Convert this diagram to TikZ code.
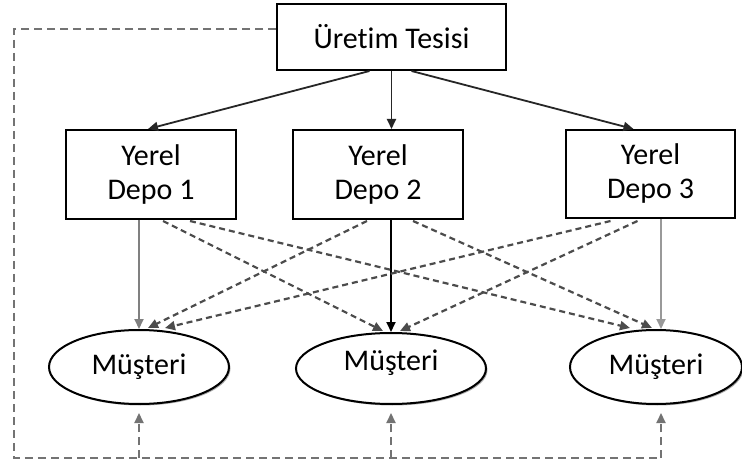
\documentclass[tikz,border=0pt]{standalone}
\usepackage{fontspec}
\setmainfont{Carlito}[Ligatures=NoCommon]
\usetikzlibrary{shapes.geometric,arrows.meta,shadows,calc}
\begin{document}
\begin{tikzpicture}[x=1pt,y=-1pt,
  txt/.style={font=\fontsize{30}{34}\selectfont},
  box/.style={txt,draw=black,line width=2pt,fill=white,inner sep=0pt,align=center},
  cust/.style={txt,ellipse,draw=black,line width=2pt,fill=white,inner sep=0pt,
    drop shadow={shadow xshift=1.5pt,shadow yshift=-1.5pt,fill=black!55,opacity=0.6}},
  tip/.style={-{Triangle[length=10pt,width=9pt]}},
  feed/.style={tip,draw=black!85,line width=1.8pt},
  direct/.style={tip,line width=1.9pt},
  cross/.style={tip,draw=black!70,line width=2.2pt,dash pattern=on 6pt off 4pt},
  back/.style={draw=black!55,line width=2pt,dash pattern=on 8pt off 5pt},
]
\useasboundingbox[fill=white] (0,0) rectangle (742,473);

% plant and local depots
\node[box,minimum width=229pt,minimum height=66pt] (u) at (391.5,37) {Üretim Tesisi};
\node[box,minimum width=170pt,minimum height=89pt] (d1) at (151,174.5) {Yerel\\Depo 1};
\node[box,minimum width=170pt,minimum height=89pt] (d2) at (378,174.5) {Yerel\\Depo 2};
\node[box,minimum width=169pt,minimum height=88pt] (d3) at (650.5,174) {Yerel\\Depo 3};

% customers
\node[cust,minimum width=180pt,minimum height=74pt] (m1) at (139,367) {Müşteri};
\node[cust,minimum width=190pt,minimum height=71pt,
  label={[txt,yshift=5.5pt]center:Müşteri}] (m2) at (391,368.5) {};
\node[cust,minimum width=172pt,minimum height=74pt] (m3) at (656,367) {Müşteri};

% plant to depots
\draw[feed] ($(u.south)+(-22,0)$) -- ($(d1.north)+(-3,0)$);
\draw[feed] (u.south) -- (u.south |- d2.north);
\draw[feed] ($(u.south)+(20,0)$) -- ($(d3.north)+(-17,0)$);

% depots to their own customers
\draw[direct,draw=black!50] (m1 |- d1.south) -- (m1.north);
\draw[direct,draw=black] (m2 |- d2.south) -- (m2.north);
\draw[direct,draw=black!40] ($(m3.north |- d3.south)+(5,0)$) -- ($(m3.north)+(5,0)$);

% depots to other customers
\draw[cross] ($(d1.south)+(12,1)$) -- ($(m2.north)+(-8,-1)$);
\draw[cross] ($(d1.south)+(39,1)$) -- ($(m3.north)+(-26,-1)$);
\draw[cross] ($(d2.south)+(-11,1)$) -- ($(m1.north)+(9,-1)$);
\draw[cross] ($(d2.south)+(35,1)$) -- ($(m3.north)+(-4,-1)$);
\draw[cross] ($(d3.south)+(-40,2)$) -- ($(m1.north)+(26,-1)$);
\draw[cross] ($(d3.south)+(-13,2)$) -- ($(m2.north)+(9,-1)$);

% direct delivery from the plant
\coordinate (fs) at (u.west |- 0,29);
\coordinate (fl) at (14,29);
\coordinate (fb) at (14,458);
\coordinate (fe) at ($(m3.south |- fb)+(5,0)$);
\draw[back] (fs) -- (fl) -- (fb) -- (fe);
\draw[back,tip,shorten >=8pt] (m1.south |- fb) -- (m1.south);
\draw[back,tip,shorten >=8pt] (m2.south |- fb) -- (m2.south);
\draw[back,tip,shorten >=8pt] (fe) -- ($(m3.south)+(5,0)$);
\end{tikzpicture}
\end{document}
